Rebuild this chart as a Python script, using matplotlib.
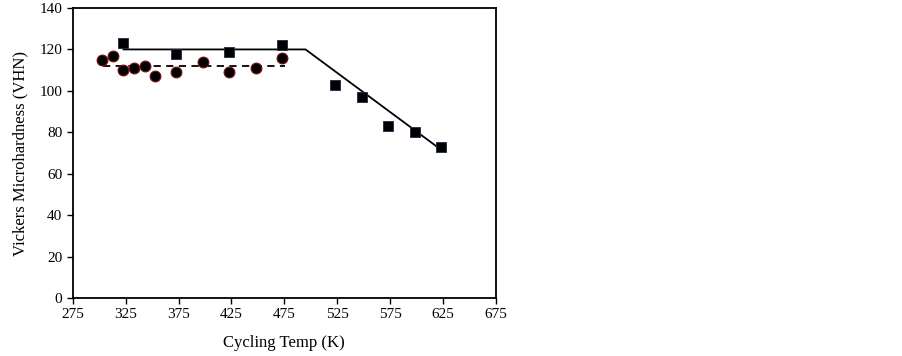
import matplotlib
matplotlib.use('Agg')
from matplotlib import pyplot as plt

# square series (as-cycled?) and circle series
sq_temp = [323, 373, 423, 473, 523, 548, 573, 598, 623]
sq_hv = [123, 118, 119, 122, 103, 97, 83, 80, 73]

circ_temp = [303, 313, 323, 333, 343, 353, 373, 398, 423, 448, 473]
circ_hv = [115, 117, 110, 111, 112, 107, 109, 114, 109, 111, 116]

# fitted trend lines
fit_temp = [323, 495, 622]
fit_hv = [120, 120, 72]
dash_temp = [304, 476]
dash_hv = [112, 112]

xticks = [275, 325, 375, 425, 475, 525, 575, 625, 675]
yticks = [0, 20, 40, 60, 80, 100, 120, 140]

plt.rcParams['font.family'] = ['Liberation Serif', 'DejaVu Serif']

fig = plt.figure(figsize=(9.03, 3.56), dpi=100)
ax = fig.add_axes([72.7 / 903, 1 - 298 / 356, (496 - 72.7) / 903, (298 - 8) / 356])

ax.plot(fit_temp, fit_hv, color='black', lw=1.3)
ax.plot(dash_temp, dash_hv, color='black', lw=1.3, ls=(0, (4, 3)))
ax.scatter(sq_temp, sq_hv, marker='s', s=60, color='black', edgecolors='#1a2a4a', linewidths=0.6, zorder=3)
ax.scatter(circ_temp, circ_hv, marker='o', s=60, color='black', edgecolors='#7a1010', linewidths=0.8, zorder=3)

ax.set_xlim(275, 675)
ax.set_ylim(0, 140)
ax.set_xticks(xticks)
ax.set_yticks(yticks)
ax.tick_params(direction='out', length=4, width=1, labelsize=11, color='black')
for sp in ax.spines.values():
    sp.set_linewidth(1.3)

ax.set_xlabel('Cycling Temp (K)', fontsize=12, labelpad=10)
ax.set_ylabel('Vickers Microhardness (VHN)', fontsize=12, labelpad=8)

fig.savefig('out.png', dpi=100)
